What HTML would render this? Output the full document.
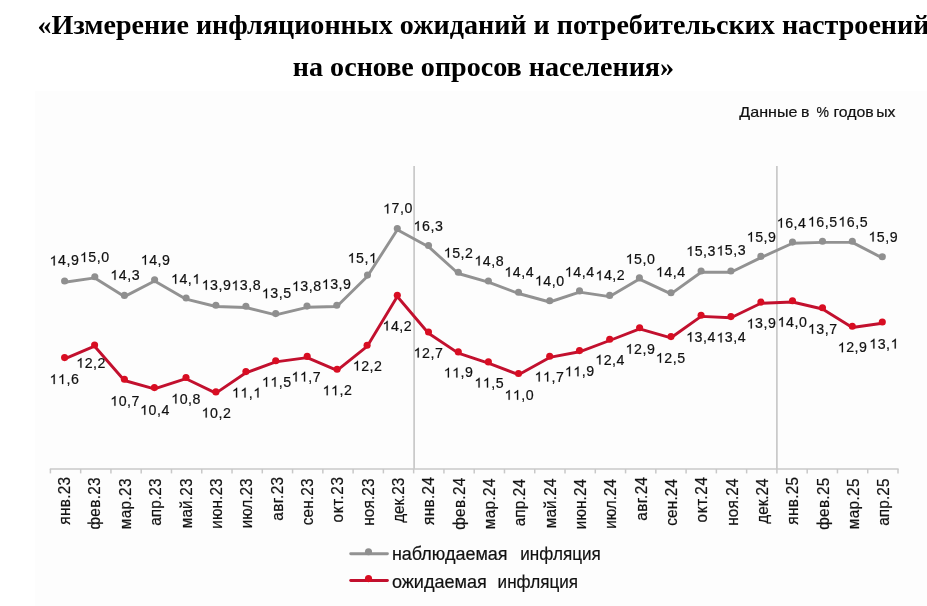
<!DOCTYPE html>
<html lang="ru"><head><meta charset="utf-8"><title>Chart</title>
<style>html,body{margin:0;padding:0;background:#fff;}body{width:927px;height:606px;overflow:hidden;position:relative;font-family:"Liberation Sans",sans-serif;}svg{position:absolute;left:0;top:0;display:block;will-change:transform;}text{font-family:"Liberation Sans",sans-serif;stroke:#111;stroke-width:0.2px;}.t{font-family:"Liberation Serif",serif;font-weight:bold;stroke:none;}</style></head><body>
<svg width="927" height="606" viewBox="0 0 927 606">
<defs><path id="one" fill="#111111" stroke="#111111" stroke-width="24" d="M763 0L583 0L583 1098Q518 1038 412.5 979Q307 920 223 890L223 1057Q374 1125 487 1221Q600 1318 647 1409L763 1409Z"/></defs>
<rect x="0" y="0" width="927" height="606" fill="#ffffff"/>
<rect x="35" y="91" width="892" height="515" fill="#fdfdfd"/>
<text class="t" x="483.5" y="33.5" font-size="28.1" text-anchor="middle" fill="#000">«Измерение инфляционных ожиданий и потребительских настроений</text>
<text class="t" x="483.5" y="76" font-size="28.1" text-anchor="middle" fill="#000">на основе опросов населения»</text>
<text transform="translate(739.3,116.5) scale(1.15,1)" font-size="14" fill="#111111">Данные</text>
<text transform="translate(801.0,116.5) scale(1.13,1)" font-size="14" fill="#111111">в</text>
<text transform="translate(816.6,116.5) scale(1.0,1)" font-size="14" fill="#111111">%</text>
<text transform="translate(833.4,116.5) scale(1.13,1)" font-size="14" fill="#111111">годов</text>
<text transform="translate(876.2,116.5) scale(1.13,1)" font-size="14" fill="#111111">ых</text>
<line x1="414.1" y1="166" x2="414.1" y2="469.0" stroke="#c8c8c8" stroke-width="1.7"/>
<line x1="776.9" y1="166" x2="776.9" y2="469.0" stroke="#c8c8c8" stroke-width="1.7"/>
<line x1="49.8" y1="469.0" x2="898.6" y2="469.0" stroke="#c8c8c8" stroke-width="1.6"/>
<line x1="50.40" y1="469.0" x2="50.40" y2="473.4" stroke="#c8c8c8" stroke-width="1.5"/>
<line x1="80.67" y1="469.0" x2="80.67" y2="473.4" stroke="#c8c8c8" stroke-width="1.5"/>
<line x1="110.94" y1="469.0" x2="110.94" y2="473.4" stroke="#c8c8c8" stroke-width="1.5"/>
<line x1="141.21" y1="469.0" x2="141.21" y2="473.4" stroke="#c8c8c8" stroke-width="1.5"/>
<line x1="171.49" y1="469.0" x2="171.49" y2="473.4" stroke="#c8c8c8" stroke-width="1.5"/>
<line x1="201.76" y1="469.0" x2="201.76" y2="473.4" stroke="#c8c8c8" stroke-width="1.5"/>
<line x1="232.03" y1="469.0" x2="232.03" y2="473.4" stroke="#c8c8c8" stroke-width="1.5"/>
<line x1="262.30" y1="469.0" x2="262.30" y2="473.4" stroke="#c8c8c8" stroke-width="1.5"/>
<line x1="292.57" y1="469.0" x2="292.57" y2="473.4" stroke="#c8c8c8" stroke-width="1.5"/>
<line x1="322.84" y1="469.0" x2="322.84" y2="473.4" stroke="#c8c8c8" stroke-width="1.5"/>
<line x1="353.11" y1="469.0" x2="353.11" y2="473.4" stroke="#c8c8c8" stroke-width="1.5"/>
<line x1="383.39" y1="469.0" x2="383.39" y2="473.4" stroke="#c8c8c8" stroke-width="1.5"/>
<line x1="413.66" y1="469.0" x2="413.66" y2="473.4" stroke="#c8c8c8" stroke-width="1.5"/>
<line x1="443.93" y1="469.0" x2="443.93" y2="473.4" stroke="#c8c8c8" stroke-width="1.5"/>
<line x1="474.20" y1="469.0" x2="474.20" y2="473.4" stroke="#c8c8c8" stroke-width="1.5"/>
<line x1="504.47" y1="469.0" x2="504.47" y2="473.4" stroke="#c8c8c8" stroke-width="1.5"/>
<line x1="534.74" y1="469.0" x2="534.74" y2="473.4" stroke="#c8c8c8" stroke-width="1.5"/>
<line x1="565.01" y1="469.0" x2="565.01" y2="473.4" stroke="#c8c8c8" stroke-width="1.5"/>
<line x1="595.29" y1="469.0" x2="595.29" y2="473.4" stroke="#c8c8c8" stroke-width="1.5"/>
<line x1="625.56" y1="469.0" x2="625.56" y2="473.4" stroke="#c8c8c8" stroke-width="1.5"/>
<line x1="655.83" y1="469.0" x2="655.83" y2="473.4" stroke="#c8c8c8" stroke-width="1.5"/>
<line x1="686.10" y1="469.0" x2="686.10" y2="473.4" stroke="#c8c8c8" stroke-width="1.5"/>
<line x1="716.37" y1="469.0" x2="716.37" y2="473.4" stroke="#c8c8c8" stroke-width="1.5"/>
<line x1="746.64" y1="469.0" x2="746.64" y2="473.4" stroke="#c8c8c8" stroke-width="1.5"/>
<line x1="776.91" y1="469.0" x2="776.91" y2="473.4" stroke="#c8c8c8" stroke-width="1.5"/>
<line x1="807.19" y1="469.0" x2="807.19" y2="473.4" stroke="#c8c8c8" stroke-width="1.5"/>
<line x1="837.46" y1="469.0" x2="837.46" y2="473.4" stroke="#c8c8c8" stroke-width="1.5"/>
<line x1="867.73" y1="469.0" x2="867.73" y2="473.4" stroke="#c8c8c8" stroke-width="1.5"/>
<line x1="898.00" y1="469.0" x2="898.00" y2="473.4" stroke="#c8c8c8" stroke-width="1.5"/>
<text transform="translate(70.14,476.56) rotate(-90) scale(1,1.02)" font-size="15.3" letter-spacing="0.34" text-anchor="end" fill="#111111" stroke-width="0.1">янв.23</text>
<text transform="translate(100.48,477.06) rotate(-90) scale(1,1.02)" font-size="15.3" letter-spacing="0.34" text-anchor="end" fill="#111111" stroke-width="0.1">фев.23</text>
<text transform="translate(130.82,478.10) rotate(-90) scale(1,1.02)" font-size="15.3" letter-spacing="0.4" text-anchor="end" fill="#111111" stroke-width="0.1">мар.23</text>
<text transform="translate(161.16,478.34) rotate(-90) scale(1,1.02)" font-size="15.3" letter-spacing="0.16" text-anchor="end" fill="#111111" stroke-width="0.1">апр.23</text>
<text transform="translate(191.50,478.30) rotate(-90) scale(1,1.02)" font-size="15.3" letter-spacing="0.2" text-anchor="end" fill="#111111" stroke-width="0.1">май.23</text>
<text transform="translate(221.84,478.40) rotate(-90) scale(1,1.02)" font-size="15.3" letter-spacing="0.1" text-anchor="end" fill="#111111" stroke-width="0.1">июн.23</text>
<text transform="translate(252.18,478.50) rotate(-90) scale(1,1.02)" font-size="15.3" letter-spacing="0.0" text-anchor="end" fill="#111111" stroke-width="0.1">июл.23</text>
<text transform="translate(282.53,476.44) rotate(-90) scale(1,1.02)" font-size="15.3" letter-spacing="0.46" text-anchor="end" fill="#111111" stroke-width="0.1">авг.23</text>
<text transform="translate(312.87,478.32) rotate(-90) scale(1,1.02)" font-size="15.3" letter-spacing="0.18" text-anchor="end" fill="#111111" stroke-width="0.1">сен.23</text>
<text transform="translate(343.21,476.16) rotate(-90) scale(1,1.02)" font-size="15.3" letter-spacing="0.74" text-anchor="end" fill="#111111" stroke-width="0.1">окт.23</text>
<text transform="translate(373.55,478.32) rotate(-90) scale(1,1.02)" font-size="15.3" letter-spacing="0.18" text-anchor="end" fill="#111111" stroke-width="0.1">ноя.23</text>
<text transform="translate(403.89,477.74) rotate(-90) scale(1,1.02)" font-size="15.3" letter-spacing="-0.04" text-anchor="end" fill="#111111" stroke-width="0.1">дек.23</text>
<text transform="translate(434.23,476.76) rotate(-90) scale(1,1.02)" font-size="15.3" letter-spacing="0.34" text-anchor="end" fill="#111111" stroke-width="0.1">янв.24</text>
<text transform="translate(464.57,477.36) rotate(-90) scale(1,1.02)" font-size="15.3" letter-spacing="0.34" text-anchor="end" fill="#111111" stroke-width="0.1">фев.24</text>
<text transform="translate(494.92,478.10) rotate(-90) scale(1,1.02)" font-size="15.3" letter-spacing="0.4" text-anchor="end" fill="#111111" stroke-width="0.1">мар.24</text>
<text transform="translate(525.26,478.84) rotate(-90) scale(1,1.02)" font-size="15.3" letter-spacing="0.16" text-anchor="end" fill="#111111" stroke-width="0.1">апр.24</text>
<text transform="translate(555.60,478.30) rotate(-90) scale(1,1.02)" font-size="15.3" letter-spacing="0.2" text-anchor="end" fill="#111111" stroke-width="0.1">май.24</text>
<text transform="translate(585.94,478.90) rotate(-90) scale(1,1.02)" font-size="15.3" letter-spacing="0.1" text-anchor="end" fill="#111111" stroke-width="0.1">июн.24</text>
<text transform="translate(616.28,479.00) rotate(-90) scale(1,1.02)" font-size="15.3" letter-spacing="0.0" text-anchor="end" fill="#111111" stroke-width="0.1">июл.24</text>
<text transform="translate(646.62,476.44) rotate(-90) scale(1,1.02)" font-size="15.3" letter-spacing="0.46" text-anchor="end" fill="#111111" stroke-width="0.1">авг.24</text>
<text transform="translate(676.96,478.82) rotate(-90) scale(1,1.02)" font-size="15.3" letter-spacing="0.18" text-anchor="end" fill="#111111" stroke-width="0.1">сен.24</text>
<text transform="translate(707.31,476.16) rotate(-90) scale(1,1.02)" font-size="15.3" letter-spacing="0.74" text-anchor="end" fill="#111111" stroke-width="0.1">окт.24</text>
<text transform="translate(737.65,478.32) rotate(-90) scale(1,1.02)" font-size="15.3" letter-spacing="0.18" text-anchor="end" fill="#111111" stroke-width="0.1">ноя.24</text>
<text transform="translate(767.99,478.54) rotate(-90) scale(1,1.02)" font-size="15.3" letter-spacing="-0.04" text-anchor="end" fill="#111111" stroke-width="0.1">дек.24</text>
<text transform="translate(798.33,476.56) rotate(-90) scale(1,1.02)" font-size="15.3" letter-spacing="0.34" text-anchor="end" fill="#111111" stroke-width="0.1">янв.25</text>
<text transform="translate(828.67,477.36) rotate(-90) scale(1,1.02)" font-size="15.3" letter-spacing="0.34" text-anchor="end" fill="#111111" stroke-width="0.1">фев.25</text>
<text transform="translate(859.01,478.10) rotate(-90) scale(1,1.02)" font-size="15.3" letter-spacing="0.4" text-anchor="end" fill="#111111" stroke-width="0.1">мар.25</text>
<text transform="translate(889.35,478.34) rotate(-90) scale(1,1.02)" font-size="15.3" letter-spacing="0.16" text-anchor="end" fill="#111111" stroke-width="0.1">апр.25</text>
<polyline points="64.6,282.2 94.8,277.9 124.4,296.6 154.6,281.0 186.1,299.2 215.9,306.5 245.9,307.5 275.7,314.8 307,307.3 336.8,306.5 367.5,276.3 397.3,229.7 428.5,246.7 458.3,273.5 488.4,282.2 518.5,293.5 549.7,302.0 579.5,292.1 609.7,296.6 639.4,279.1 671,293.9 701.1,272.2 730.9,272.2 760.9,257.6 792.5,243.3 822.5,242.4 852.3,242.4 882.3,257.9" fill="none" stroke="#929292" stroke-width="2.9" stroke-linejoin="round" stroke-linecap="round"/>
<circle cx="64.6" cy="281" r="3.55" fill="#8f8f8f"/>
<circle cx="94.8" cy="276.7" r="3.55" fill="#8f8f8f"/>
<circle cx="124.4" cy="295.4" r="3.55" fill="#8f8f8f"/>
<circle cx="154.6" cy="279.8" r="3.55" fill="#8f8f8f"/>
<circle cx="186.1" cy="298" r="3.55" fill="#8f8f8f"/>
<circle cx="215.9" cy="305.3" r="3.55" fill="#8f8f8f"/>
<circle cx="245.9" cy="306.3" r="3.55" fill="#8f8f8f"/>
<circle cx="275.7" cy="313.6" r="3.55" fill="#8f8f8f"/>
<circle cx="307" cy="306.1" r="3.55" fill="#8f8f8f"/>
<circle cx="336.8" cy="305.3" r="3.55" fill="#8f8f8f"/>
<circle cx="367.5" cy="275.1" r="3.55" fill="#8f8f8f"/>
<circle cx="397.3" cy="228.5" r="3.55" fill="#8f8f8f"/>
<circle cx="428.5" cy="245.5" r="3.55" fill="#8f8f8f"/>
<circle cx="458.3" cy="272.3" r="3.55" fill="#8f8f8f"/>
<circle cx="488.4" cy="281" r="3.55" fill="#8f8f8f"/>
<circle cx="518.5" cy="292.3" r="3.55" fill="#8f8f8f"/>
<circle cx="549.7" cy="300.8" r="3.55" fill="#8f8f8f"/>
<circle cx="579.5" cy="290.9" r="3.55" fill="#8f8f8f"/>
<circle cx="609.7" cy="295.4" r="3.55" fill="#8f8f8f"/>
<circle cx="639.4" cy="277.9" r="3.55" fill="#8f8f8f"/>
<circle cx="671" cy="292.7" r="3.55" fill="#8f8f8f"/>
<circle cx="701.1" cy="271" r="3.55" fill="#8f8f8f"/>
<circle cx="730.9" cy="271" r="3.55" fill="#8f8f8f"/>
<circle cx="760.9" cy="256.4" r="3.55" fill="#8f8f8f"/>
<circle cx="792.5" cy="242.1" r="3.55" fill="#8f8f8f"/>
<circle cx="822.5" cy="241.2" r="3.55" fill="#8f8f8f"/>
<circle cx="852.3" cy="241.2" r="3.55" fill="#8f8f8f"/>
<circle cx="882.3" cy="256.7" r="3.55" fill="#8f8f8f"/>
<polyline points="64.6,358.8 94.6,346.2 124.4,380.5 154.4,388.8 186,378.7 215.9,393.1 245.9,372.8 275.7,361.9 307.2,357.6 337.1,370.4 367.1,346.4 397.3,296.5 428.5,333.2 458.3,353.1 488.4,363.1 518.5,374.7 549.7,357.4 579.5,351.8 609.7,340.5 639.6,328.9 671,337.8 701.1,316.4 730.9,317.8 760.9,303.3 792.5,302.0 822.5,309.0 852.3,327.5 882.3,323.2" fill="none" stroke="#c2102e" stroke-width="2.9" stroke-linejoin="round" stroke-linecap="round"/>
<circle cx="64.6" cy="357.6" r="3.55" fill="#d80d22"/>
<circle cx="94.6" cy="345" r="3.55" fill="#d80d22"/>
<circle cx="124.4" cy="379.3" r="3.55" fill="#d80d22"/>
<circle cx="154.4" cy="387.6" r="3.55" fill="#d80d22"/>
<circle cx="186" cy="377.5" r="3.55" fill="#d80d22"/>
<circle cx="215.9" cy="391.9" r="3.55" fill="#d80d22"/>
<circle cx="245.9" cy="371.6" r="3.55" fill="#d80d22"/>
<circle cx="275.7" cy="360.7" r="3.55" fill="#d80d22"/>
<circle cx="307.2" cy="356.4" r="3.55" fill="#d80d22"/>
<circle cx="337.1" cy="369.2" r="3.55" fill="#d80d22"/>
<circle cx="367.1" cy="345.2" r="3.55" fill="#d80d22"/>
<circle cx="397.3" cy="295.3" r="3.55" fill="#d80d22"/>
<circle cx="428.5" cy="332" r="3.55" fill="#d80d22"/>
<circle cx="458.3" cy="351.9" r="3.55" fill="#d80d22"/>
<circle cx="488.4" cy="361.9" r="3.55" fill="#d80d22"/>
<circle cx="518.5" cy="373.5" r="3.55" fill="#d80d22"/>
<circle cx="549.7" cy="356.2" r="3.55" fill="#d80d22"/>
<circle cx="579.5" cy="350.6" r="3.55" fill="#d80d22"/>
<circle cx="609.7" cy="339.3" r="3.55" fill="#d80d22"/>
<circle cx="639.6" cy="327.7" r="3.55" fill="#d80d22"/>
<circle cx="671" cy="336.6" r="3.55" fill="#d80d22"/>
<circle cx="701.1" cy="315.2" r="3.55" fill="#d80d22"/>
<circle cx="730.9" cy="316.6" r="3.55" fill="#d80d22"/>
<circle cx="760.9" cy="302.1" r="3.55" fill="#d80d22"/>
<circle cx="792.5" cy="300.8" r="3.55" fill="#d80d22"/>
<circle cx="822.5" cy="307.8" r="3.55" fill="#d80d22"/>
<circle cx="852.3" cy="326.3" r="3.55" fill="#d80d22"/>
<circle cx="882.3" cy="322" r="3.55" fill="#d80d22"/>
<g transform="translate(49.52,265.4)"><text transform="scale(1.0,1)" x="8.45 16.89 21.39" y="0" font-size="14.2" fill="#111111">4,9</text><use href="#one" transform="translate(0.00,0) scale(0.006934,-0.006934)"/></g>
<g transform="translate(79.86,262.1)"><text transform="scale(1.0,1)" x="8.45 16.89 21.39" y="0" font-size="14.2" fill="#111111">5,0</text><use href="#one" transform="translate(0.00,0) scale(0.006934,-0.006934)"/></g>
<g transform="translate(110.30,279.8)"><text transform="scale(1.0,1)" x="8.45 16.89 21.39" y="0" font-size="14.2" fill="#111111">4,3</text><use href="#one" transform="translate(0.00,0) scale(0.006934,-0.006934)"/></g>
<g transform="translate(140.72,264.7)"><text transform="scale(1.0,1)" x="8.45 16.89 21.39" y="0" font-size="14.2" fill="#111111">4,9</text><use href="#one" transform="translate(0.00,0) scale(0.006934,-0.006934)"/></g>
<g transform="translate(170.99,283.8)"><text transform="scale(1.0,1)" x="8.45 16.89" y="0" font-size="14.2" fill="#111111">4,</text><use href="#one" transform="translate(0.00,0) scale(0.006934,-0.006934)"/><use href="#one" transform="translate(21.39,0) scale(0.006934,-0.006934)"/></g>
<g transform="translate(201.62,289.8)"><text transform="scale(1.0,1)" x="8.45 16.89 21.39" y="0" font-size="14.2" fill="#111111">3,9</text><use href="#one" transform="translate(0.00,0) scale(0.006934,-0.006934)"/></g>
<g transform="translate(231.39,290.2)"><text transform="scale(1.0,1)" x="8.45 16.89 21.39" y="0" font-size="14.2" fill="#111111">3,8</text><use href="#one" transform="translate(0.00,0) scale(0.006934,-0.006934)"/></g>
<g transform="translate(261.78,298.3)"><text transform="scale(1.0,1)" x="8.45 16.89 21.39" y="0" font-size="14.2" fill="#111111">3,5</text><use href="#one" transform="translate(0.00,0) scale(0.006934,-0.006934)"/></g>
<g transform="translate(291.89,291)"><text transform="scale(1.0,1)" x="8.45 16.89 21.39" y="0" font-size="14.2" fill="#111111">3,8</text><use href="#one" transform="translate(0.00,0) scale(0.006934,-0.006934)"/></g>
<g transform="translate(321.72,289)"><text transform="scale(1.0,1)" x="8.45 16.89 21.39" y="0" font-size="14.2" fill="#111111">3,9</text><use href="#one" transform="translate(0.00,0) scale(0.006934,-0.006934)"/></g>
<g transform="translate(347.59,262.8)"><text transform="scale(1.0,1)" x="8.45 16.89" y="0" font-size="14.2" fill="#111111">5,</text><use href="#one" transform="translate(0.00,0) scale(0.006934,-0.006934)"/><use href="#one" transform="translate(21.39,0) scale(0.006934,-0.006934)"/></g>
<g transform="translate(383.06,213.4)"><text transform="scale(1.0,1)" x="8.45 16.89 21.39" y="0" font-size="14.2" fill="#111111">7,0</text><use href="#one" transform="translate(0.00,0) scale(0.006934,-0.006934)"/></g>
<g transform="translate(413.50,230.7)"><text transform="scale(1.0,1)" x="8.45 16.89 21.39" y="0" font-size="14.2" fill="#111111">6,3</text><use href="#one" transform="translate(0.00,0) scale(0.006934,-0.006934)"/></g>
<g transform="translate(443.74,257.6)"><text transform="scale(1.0,1)" x="8.45 16.89 21.39" y="0" font-size="14.2" fill="#111111">5,2</text><use href="#one" transform="translate(0.00,0) scale(0.006934,-0.006934)"/></g>
<g transform="translate(474.39,265.6)"><text transform="scale(1.0,1)" x="8.45 16.89 21.39" y="0" font-size="14.2" fill="#111111">4,8</text><use href="#one" transform="translate(0.00,0) scale(0.006934,-0.006934)"/></g>
<g transform="translate(504.39,276.7)"><text transform="scale(1.0,1)" x="8.45 16.89 21.39" y="0" font-size="14.2" fill="#111111">4,4</text><use href="#one" transform="translate(0.00,0) scale(0.006934,-0.006934)"/></g>
<g transform="translate(534.86,285.5)"><text transform="scale(1.0,1)" x="8.45 16.89 21.39" y="0" font-size="14.2" fill="#111111">4,0</text><use href="#one" transform="translate(0.00,0) scale(0.006934,-0.006934)"/></g>
<g transform="translate(564.79,276.7)"><text transform="scale(1.0,1)" x="8.45 16.89 21.39" y="0" font-size="14.2" fill="#111111">4,4</text><use href="#one" transform="translate(0.00,0) scale(0.006934,-0.006934)"/></g>
<g transform="translate(595.44,280.3)"><text transform="scale(1.0,1)" x="8.45 16.89 21.39" y="0" font-size="14.2" fill="#111111">4,2</text><use href="#one" transform="translate(0.00,0) scale(0.006934,-0.006934)"/></g>
<g transform="translate(625.66,263.7)"><text transform="scale(1.0,1)" x="8.45 16.89 21.39" y="0" font-size="14.2" fill="#111111">5,0</text><use href="#one" transform="translate(0.00,0) scale(0.006934,-0.006934)"/></g>
<g transform="translate(655.89,276.7)"><text transform="scale(1.0,1)" x="8.45 16.89 21.39" y="0" font-size="14.2" fill="#111111">4,4</text><use href="#one" transform="translate(0.00,0) scale(0.006934,-0.006934)"/></g>
<g transform="translate(686.20,255.9)"><text transform="scale(1.0,1)" x="8.45 16.89 21.39" y="0" font-size="14.2" fill="#111111">5,3</text><use href="#one" transform="translate(0.00,0) scale(0.006934,-0.006934)"/></g>
<g transform="translate(716.40,255.4)"><text transform="scale(1.0,1)" x="8.45 16.89 21.39" y="0" font-size="14.2" fill="#111111">5,3</text><use href="#one" transform="translate(0.00,0) scale(0.006934,-0.006934)"/></g>
<g transform="translate(746.72,241.7)"><text transform="scale(1.0,1)" x="8.45 16.89 21.39" y="0" font-size="14.2" fill="#111111">5,9</text><use href="#one" transform="translate(0.00,0) scale(0.006934,-0.006934)"/></g>
<g transform="translate(776.69,227.7)"><text transform="scale(1.0,1)" x="8.45 16.89 21.39" y="0" font-size="14.2" fill="#111111">6,4</text><use href="#one" transform="translate(0.00,0) scale(0.006934,-0.006934)"/></g>
<g transform="translate(807.78,226.5)"><text transform="scale(1.0,1)" x="8.45 16.89 21.39" y="0" font-size="14.2" fill="#111111">6,5</text><use href="#one" transform="translate(0.00,0) scale(0.006934,-0.006934)"/></g>
<g transform="translate(838.28,226.5)"><text transform="scale(1.0,1)" x="8.45 16.89 21.39" y="0" font-size="14.2" fill="#111111">6,5</text><use href="#one" transform="translate(0.00,0) scale(0.006934,-0.006934)"/></g>
<g transform="translate(868.42,241.6)"><text transform="scale(1.0,1)" x="8.45 16.89 21.39" y="0" font-size="14.2" fill="#111111">5,9</text><use href="#one" transform="translate(0.00,0) scale(0.006934,-0.006934)"/></g>
<g transform="translate(49.50,384.1)"><text transform="scale(1.0,1)" x="16.89 21.39" y="0" font-size="14.2" fill="#111111">,6</text><use href="#one" transform="translate(0.00,0) scale(0.006934,-0.006934)"/><use href="#one" transform="translate(8.45,0) scale(0.006934,-0.006934)"/></g>
<g transform="translate(76.24,367.7)"><text transform="scale(1.0,1)" x="8.45 16.89 21.39" y="0" font-size="14.2" fill="#111111">2,2</text><use href="#one" transform="translate(0.00,0) scale(0.006934,-0.006934)"/></g>
<g transform="translate(110.24,405.8)"><text transform="scale(1.0,1)" x="8.45 16.89 21.39" y="0" font-size="14.2" fill="#111111">0,7</text><use href="#one" transform="translate(0.00,0) scale(0.006934,-0.006934)"/></g>
<g transform="translate(140.09,414.8)"><text transform="scale(1.0,1)" x="8.45 16.89 21.39" y="0" font-size="14.2" fill="#111111">0,4</text><use href="#one" transform="translate(0.00,0) scale(0.006934,-0.006934)"/></g>
<g transform="translate(171.19,403.6)"><text transform="scale(1.0,1)" x="8.45 16.89 21.39" y="0" font-size="14.2" fill="#111111">0,8</text><use href="#one" transform="translate(0.00,0) scale(0.006934,-0.006934)"/></g>
<g transform="translate(201.54,417.6)"><text transform="scale(1.0,1)" x="8.45 16.89 21.39" y="0" font-size="14.2" fill="#111111">0,2</text><use href="#one" transform="translate(0.00,0) scale(0.006934,-0.006934)"/></g>
<g transform="translate(231.89,397.5)"><text transform="scale(1.0,1)" x="16.89" y="0" font-size="14.2" fill="#111111">,</text><use href="#one" transform="translate(0.00,0) scale(0.006934,-0.006934)"/><use href="#one" transform="translate(8.45,0) scale(0.006934,-0.006934)"/><use href="#one" transform="translate(21.39,0) scale(0.006934,-0.006934)"/></g>
<g transform="translate(261.88,386.7)"><text transform="scale(1.0,1)" x="16.89 21.39" y="0" font-size="14.2" fill="#111111">,5</text><use href="#one" transform="translate(0.00,0) scale(0.006934,-0.006934)"/><use href="#one" transform="translate(8.45,0) scale(0.006934,-0.006934)"/></g>
<g transform="translate(291.44,381.5)"><text transform="scale(1.0,1)" x="16.89 21.39" y="0" font-size="14.2" fill="#111111">,7</text><use href="#one" transform="translate(0.00,0) scale(0.006934,-0.006934)"/><use href="#one" transform="translate(8.45,0) scale(0.006934,-0.006934)"/></g>
<g transform="translate(322.54,395.3)"><text transform="scale(1.0,1)" x="16.89 21.39" y="0" font-size="14.2" fill="#111111">,2</text><use href="#one" transform="translate(0.00,0) scale(0.006934,-0.006934)"/><use href="#one" transform="translate(8.45,0) scale(0.006934,-0.006934)"/></g>
<g transform="translate(352.74,370.5)"><text transform="scale(1.0,1)" x="8.45 16.89 21.39" y="0" font-size="14.2" fill="#111111">2,2</text><use href="#one" transform="translate(0.00,0) scale(0.006934,-0.006934)"/></g>
<g transform="translate(382.44,330.6)"><text transform="scale(1.0,1)" x="8.45 16.89 21.39" y="0" font-size="14.2" fill="#111111">4,2</text><use href="#one" transform="translate(0.00,0) scale(0.006934,-0.006934)"/></g>
<g transform="translate(413.54,357.5)"><text transform="scale(1.0,1)" x="8.45 16.89 21.39" y="0" font-size="14.2" fill="#111111">2,7</text><use href="#one" transform="translate(0.00,0) scale(0.006934,-0.006934)"/></g>
<g transform="translate(443.72,377.4)"><text transform="scale(1.0,1)" x="16.89 21.39" y="0" font-size="14.2" fill="#111111">,9</text><use href="#one" transform="translate(0.00,0) scale(0.006934,-0.006934)"/><use href="#one" transform="translate(8.45,0) scale(0.006934,-0.006934)"/></g>
<g transform="translate(474.38,387.5)"><text transform="scale(1.0,1)" x="16.89 21.39" y="0" font-size="14.2" fill="#111111">,5</text><use href="#one" transform="translate(0.00,0) scale(0.006934,-0.006934)"/><use href="#one" transform="translate(8.45,0) scale(0.006934,-0.006934)"/></g>
<g transform="translate(504.46,399.7)"><text transform="scale(1.0,1)" x="16.89 21.39" y="0" font-size="14.2" fill="#111111">,0</text><use href="#one" transform="translate(0.00,0) scale(0.006934,-0.006934)"/><use href="#one" transform="translate(8.45,0) scale(0.006934,-0.006934)"/></g>
<g transform="translate(534.54,381.5)"><text transform="scale(1.0,1)" x="16.89 21.39" y="0" font-size="14.2" fill="#111111">,7</text><use href="#one" transform="translate(0.00,0) scale(0.006934,-0.006934)"/><use href="#one" transform="translate(8.45,0) scale(0.006934,-0.006934)"/></g>
<g transform="translate(564.82,376.3)"><text transform="scale(1.0,1)" x="16.89 21.39" y="0" font-size="14.2" fill="#111111">,9</text><use href="#one" transform="translate(0.00,0) scale(0.006934,-0.006934)"/><use href="#one" transform="translate(8.45,0) scale(0.006934,-0.006934)"/></g>
<g transform="translate(595.19,364.5)"><text transform="scale(1.0,1)" x="8.45 16.89 21.39" y="0" font-size="14.2" fill="#111111">2,4</text><use href="#one" transform="translate(0.00,0) scale(0.006934,-0.006934)"/></g>
<g transform="translate(625.52,353.7)"><text transform="scale(1.0,1)" x="8.45 16.89 21.39" y="0" font-size="14.2" fill="#111111">2,9</text><use href="#one" transform="translate(0.00,0) scale(0.006934,-0.006934)"/></g>
<g transform="translate(655.78,362.7)"><text transform="scale(1.0,1)" x="8.45 16.89 21.39" y="0" font-size="14.2" fill="#111111">2,5</text><use href="#one" transform="translate(0.00,0) scale(0.006934,-0.006934)"/></g>
<g transform="translate(686.09,341.8)"><text transform="scale(1.0,1)" x="8.45 16.89 21.39" y="0" font-size="14.2" fill="#111111">3,4</text><use href="#one" transform="translate(0.00,0) scale(0.006934,-0.006934)"/></g>
<g transform="translate(716.39,342.4)"><text transform="scale(1.0,1)" x="8.45 16.89 21.39" y="0" font-size="14.2" fill="#111111">3,4</text><use href="#one" transform="translate(0.00,0) scale(0.006934,-0.006934)"/></g>
<g transform="translate(746.62,328.4)"><text transform="scale(1.0,1)" x="8.45 16.89 21.39" y="0" font-size="14.2" fill="#111111">3,9</text><use href="#one" transform="translate(0.00,0) scale(0.006934,-0.006934)"/></g>
<g transform="translate(777.56,326.8)"><text transform="scale(1.0,1)" x="8.45 16.89 21.39" y="0" font-size="14.2" fill="#111111">4,0</text><use href="#one" transform="translate(0.00,0) scale(0.006934,-0.006934)"/></g>
<g transform="translate(807.84,333.8)"><text transform="scale(1.0,1)" x="8.45 16.89 21.39" y="0" font-size="14.2" fill="#111111">3,7</text><use href="#one" transform="translate(0.00,0) scale(0.006934,-0.006934)"/></g>
<g transform="translate(837.72,352.3)"><text transform="scale(1.0,1)" x="8.45 16.89 21.39" y="0" font-size="14.2" fill="#111111">2,9</text><use href="#one" transform="translate(0.00,0) scale(0.006934,-0.006934)"/></g>
<g transform="translate(869.19,348.5)"><text transform="scale(1.0,1)" x="8.45 16.89" y="0" font-size="14.2" fill="#111111">3,</text><use href="#one" transform="translate(0.00,0) scale(0.006934,-0.006934)"/><use href="#one" transform="translate(21.39,0) scale(0.006934,-0.006934)"/></g>
<line x1="350.7" y1="553.7" x2="387.4" y2="553.7" stroke="#929292" stroke-width="2.9" stroke-linecap="round"/><circle cx="368.5" cy="551.8" r="3.55" fill="#8f8f8f"/>
<line x1="350.7" y1="580.5" x2="387.4" y2="580.5" stroke="#c2102e" stroke-width="2.9" stroke-linecap="round"/><circle cx="368.5" cy="578.6" r="3.55" fill="#d80d22"/>
<text transform="translate(391.9,560.0) scale(1.0,1)" font-size="18" fill="#111111">наблюдаемая</text>
<text transform="translate(520.3,560.0) scale(0.95,1)" font-size="18" fill="#111111">инфляция</text>
<text transform="translate(391.9,587.6) scale(1.005,1)" font-size="18" fill="#111111">ожидаемая</text>
<text transform="translate(497.6,587.6) scale(0.95,1)" font-size="18" fill="#111111">инфляция</text>
</svg></body></html>
